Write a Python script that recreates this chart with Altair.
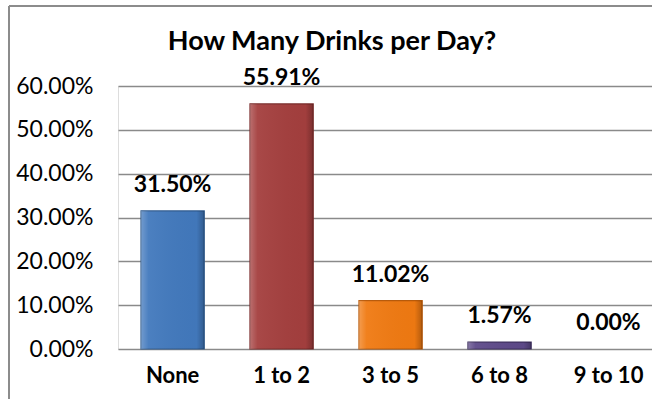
import altair as alt
import pandas as pd

categories = ["None", "1 to 2", "3 to 5", "6 to 8", "9 to 10"]
values = [0.3150, 0.5591, 0.1102, 0.0157, 0.0]
colors = ["#4279BD", "#A43F3E", "#F07A12", "#5E4A8A", "#7F9A48"]
strokes = ["#2E5A8E", "#7A2C2B", "#B85A0A", "#3F3160", "transparent"]
title_text = "How Many Drinks per Day?"

df = pd.DataFrame({"cat": categories, "val": values})
frame = pd.DataFrame({"k": [0]})

FONT = "Lato"

x = alt.X("cat:N", sort=categories,
          scale=alt.Scale(paddingInner=0.42, paddingOuter=0.16, align=0.66),
          axis=alt.Axis(title=None, labelFontWeight="bold", labelFontSize=22,
                        labelFont=FONT, labelColor="#000000", labelAngle=0,
                        ticks=False, domain=False, labelPadding=16))
y = alt.Y("val:Q", scale=alt.Scale(domain=[0, 0.6], nice=False),
          axis=alt.Axis(title=None, format=".2%", values=[0, 0.1, 0.2, 0.3, 0.4, 0.5, 0.6],
                        labelFontSize=23, labelFont=FONT, labelColor="#000000",
                        ticks=False, domain=False, labelPadding=25,
                        gridColor="#8A8A8A", gridWidth=1.5))

bars = alt.Chart(df).mark_bar(strokeWidth=1.2).encode(
    x=x, y=y,
    color=alt.Color("cat:N", sort=categories, legend=None,
                    scale=alt.Scale(domain=categories, range=colors)),
    stroke=alt.Stroke("cat:N", sort=categories, legend=None,
                      scale=alt.Scale(domain=categories, range=strokes)),
)

shine = alt.Chart(df).transform_filter("datum.val > 0").mark_bar(
    fill=alt.Gradient(
        gradient="linear", x1=0, x2=1, y1=0, y2=0,
        stops=[alt.GradientStop(offset=0, color="rgba(255,255,255,0.25)"),
               alt.GradientStop(offset=0.12, color="rgba(255,255,255,0.05)"),
               alt.GradientStop(offset=0.88, color="rgba(0,0,0,0.02)"),
               alt.GradientStop(offset=1, color="rgba(0,0,0,0.25)")]),
).encode(x=x, y=y)

labels = alt.Chart(df).mark_text(
    fontWeight="bold", fontSize=23, font=FONT, baseline="alphabetic", dy=-19, color="#000000"
).encode(x=x, y=y, text=alt.Text("val:Q", format=".2%"))

title = alt.Chart(frame).mark_text(
    text=title_text, font=FONT, fontSize=27, fontWeight="bold", color="#000000",
    align="center", baseline="alphabetic"
).encode(x=alt.value(214), y=alt.value(-36))

left_border = alt.Chart(frame).mark_rule(color="#8C8C8C", strokeWidth=2).encode(
    x=alt.value(-109), y=alt.value(-80), y2=alt.value(330))
top_border = alt.Chart(frame).mark_rule(color="#8C8C8C", strokeWidth=2).encode(
    x=alt.value(-109), x2=alt.value(540), y=alt.value(-80))

chart = alt.layer(bars, shine, labels, title, left_border, top_border).properties(
    width=534, height=263,
    autosize=alt.AutoSizeParams(type="none"),
    padding={"left": 118, "top": 86, "right": 0, "bottom": 50},
).configure_view(stroke="#8A8A8A", strokeWidth=1.5).configure(background="white")

chart.save("out.html", embed_options={"renderer": "svg", "actions": False})
